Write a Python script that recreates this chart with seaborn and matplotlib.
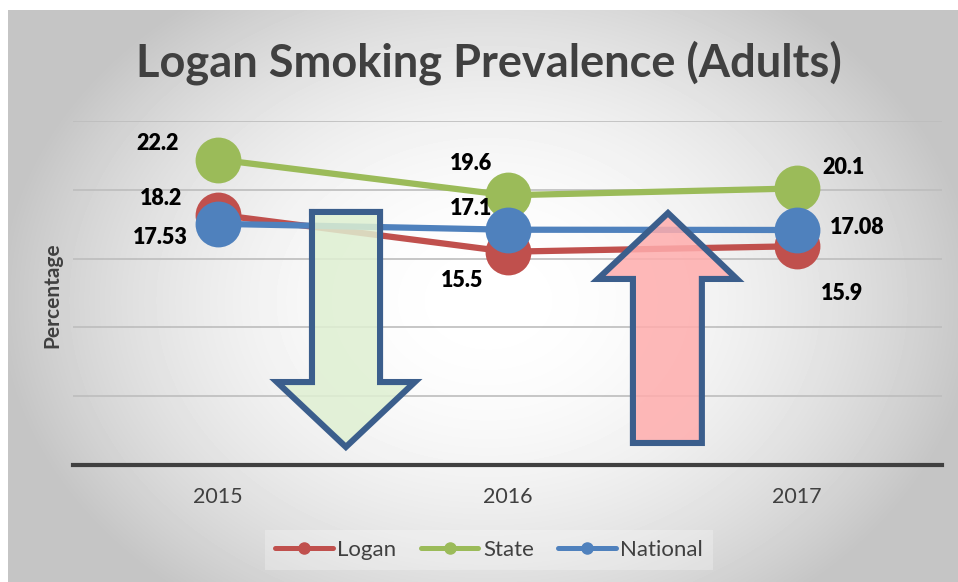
import numpy as np
import pandas as pd
import matplotlib
matplotlib.use("Agg")
import matplotlib.pyplot as plt
import seaborn as sns
from matplotlib.patches import Polygon
from matplotlib.lines import Line2D
from matplotlib.colors import to_rgba

# ---- data ----
years = [2015, 2016, 2017]
series_names = ["Logan", "State", "National"]
logan = [18.2, 15.5, 15.9]
state = [22.2, 19.6, 20.1]
national = [17.53, 17.1, 17.08]
title = "Logan Smoking Prevalence (Adults)"
y_label = "Percentage"

colors = {"Logan": "#c0504d", "State": "#9bbb59", "National": "#4f81bd"}

# label offsets (pixels) relative to each point
label_offsets = {
    "Logan": [(-57, 16), (-45, -29), (45, -47)],
    "State": [(-60, 16), (-36, 32), (46, 21)],
    "National": [(-57, -14), (-36, 21), (60, 2)],
}

df = pd.DataFrame({
    "Year": years * 3,
    "Value": logan + state + national,
    "Series": [s for s in series_names for _ in years],
})

sns.set_theme(style="white")
plt.rcParams["font.family"] = ["Lato", "DejaVu Sans"]

W, H = 958, 582
fig = plt.figure(figsize=(W / 100, H / 100), dpi=100)

# background gradient panel
bg = fig.add_axes([8 / W, 0, 950 / W, 572 / H])
bg.axis("off")
ny, nx = 572, 950
yy, xx = np.mgrid[0:ny, 0:nx]
cx, cy = 480, 290
r = np.sqrt(((xx - cx) / 560.0) ** 2 + ((yy - cy) / 430.0) ** 2)
val = np.clip(1 - 0.30 * r ** 2, 0.77, 1.0)
bg.imshow(val, cmap="gray", vmin=0, vmax=1, aspect="auto",
          extent=[0, nx, ny, 0], interpolation="bilinear")
bg.set_xlim(0, nx)
bg.set_ylim(ny, 0)

ax = fig.add_axes([73 / W, 117 / H, 869 / W, 344 / H])
ax.set_facecolor("none")

sns.lineplot(data=df, x="Year", y="Value", hue="Series", hue_order=series_names,
             palette=colors, marker="o", markersize=33, linewidth=4.5,
             markeredgewidth=0, legend=False, ax=ax, zorder=3)

ax.set_xlim(2014.5, 2017.5)
ax.set_ylim(0, 25)
ax.set_yticks([0, 5, 10, 15, 20, 25])
ax.set_yticklabels([])
ax.set_xticks(years)
ax.set_xticklabels([str(y) for y in years], fontsize=15.5, color="#404040")
ax.tick_params(axis="x", length=0, pad=16)
ax.tick_params(axis="y", length=0)
ax.grid(axis="y", color="#bdbdbd", linewidth=1.2)
ax.grid(axis="x", visible=False)
for side in ["top", "left", "right"]:
    ax.spines[side].set_visible(False)
ax.spines["bottom"].set_color("#404040")
ax.spines["bottom"].set_linewidth(3)
ax.set_xlabel("")
ax.set_ylabel("")

# data labels
series_vals = {"Logan": logan, "State": state, "National": national}
for name in series_names:
    for yr, v, off in zip(years, series_vals[name], label_offsets[name]):
        ax.annotate(str(v), (yr, v), xytext=off, textcoords="offset pixels",
                    ha="center", va="center", fontsize=15.5, fontweight="heavy",
                    color="black", zorder=6)

# decorative arrows
edge = "#3b5e8c"
down_arrow = [(2015.325, 18.39), (2015.56, 18.39), (2015.56, 6.03), (2015.68, 6.03),
              (2015.442, 1.31), (2015.204, 6.03), (2015.325, 6.03)]
up_arrow = [(2016.433, 1.6), (2016.671, 1.6), (2016.671, 13.52), (2016.792, 13.52),
            (2016.554, 18.31), (2016.312, 13.52), (2016.433, 13.52)]
ax.add_patch(Polygon(down_arrow, closed=True, facecolor=to_rgba("#dff0d2", 0.85),
                     edgecolor=edge, linewidth=4.4, joinstyle="miter", zorder=5))
ax.add_patch(Polygon(up_arrow, closed=True, facecolor=to_rgba("#ffadad", 0.85),
                     edgecolor=edge, linewidth=4.4, joinstyle="miter", zorder=5))

# title and axis label
fig.text(489 / W, 1 - 63 / H, title, ha="center", va="center", fontsize=32.5,
         fontweight="bold", color="#404040")
fig.text(52 / W, 1 - 295 / H, y_label, ha="center", va="center", rotation=90,
         fontsize=15, fontweight="bold", color="#404040")

# legend
handles = [Line2D([0], [0], color=colors[n], lw=3.6, marker="o", markersize=8)
           for n in series_names]
leg = fig.legend(handles, series_names, loc="center", bbox_to_anchor=(489 / W, 1 - 550 / H),
                 ncol=3, fontsize=16, frameon=True, handlelength=2.6, handletextpad=0.2,
                 columnspacing=1.1, borderpad=0.45, facecolor="white", framealpha=0.25,
                 edgecolor="none", fancybox=False)
for t in leg.get_texts():
    t.set_color("#404040")

fig.savefig("out.png", dpi=100)
